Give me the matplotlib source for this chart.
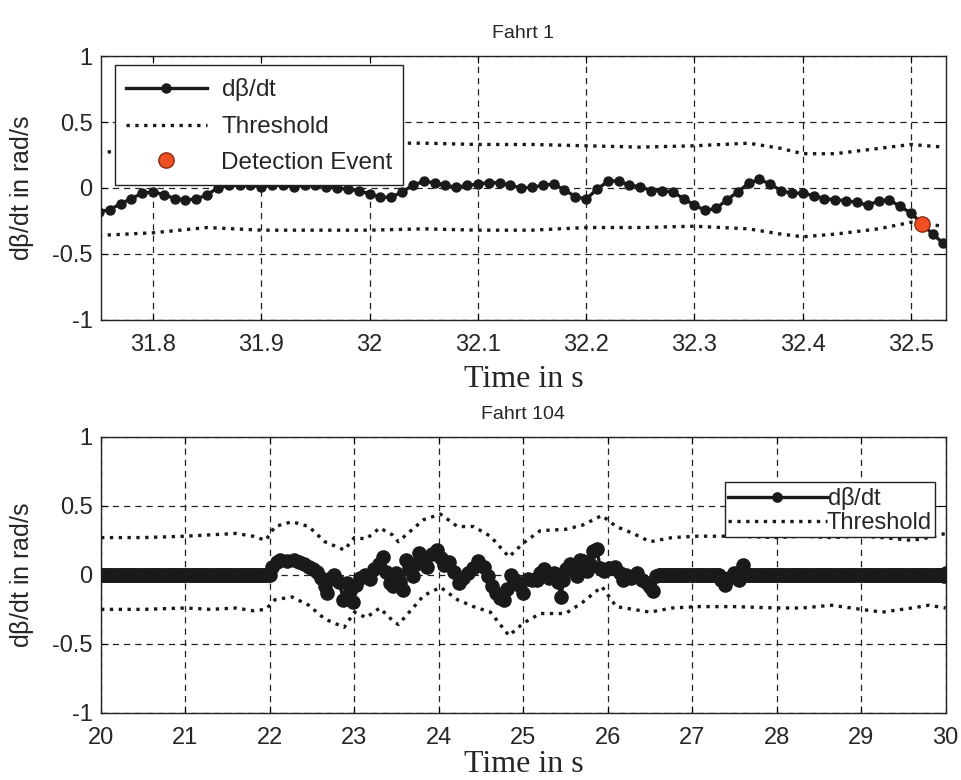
import numpy as np
import matplotlib
matplotlib.use("Agg")
import matplotlib.pyplot as plt

plt.rcParams['font.family'] = ['Liberation Sans', 'DejaVu Sans']

# ---- Fahrt 1 ----
t1_start = 31.75
beta1 = [-0.18, -0.165, -0.12, -0.08, -0.04, -0.03, -0.05, -0.08, -0.09, -0.085,
         -0.05, 0.00, 0.02, 0.02, 0.02, 0.01, 0.02, 0.02, 0.01, 0.02,
         0.02, 0.01, 0.00, -0.01, -0.02, -0.045, -0.07, -0.07, -0.03, 0.02,
         0.05, 0.04, 0.02, 0.005, 0.02, 0.03, 0.04, 0.04, 0.02, 0.00,
         0.005, 0.02, 0.03, -0.015, -0.065, -0.085, -0.01, 0.05, 0.055, 0.02,
         0.01, -0.02, -0.02, -0.03, -0.08, -0.13, -0.17, -0.155, -0.09, -0.03,
         0.035, 0.065, 0.03, -0.02, -0.04, -0.04, -0.058, -0.08, -0.09, -0.095,
         -0.11, -0.13, -0.10, -0.09, -0.14, -0.19, -0.27, -0.35, -0.42]
thr1_t = [31.75, 31.80, 31.85, 31.90, 31.95, 32.00, 32.05, 32.10, 32.15, 32.20,
          32.25, 32.30, 32.35, 32.38, 32.40, 32.43, 32.47, 32.50, 32.53]
thr1_up = [0.27, 0.29, 0.32, 0.33, 0.34, 0.34, 0.34, 0.33, 0.33, 0.32,
           0.31, 0.32, 0.34, 0.30, 0.26, 0.26, 0.30, 0.33, 0.31]
thr1_lo = [-0.36, -0.34, -0.30, -0.32, -0.32, -0.32, -0.31, -0.32, -0.32, -0.30,
           -0.30, -0.29, -0.31, -0.35, -0.37, -0.35, -0.31, -0.26, -0.29]
event_t = [32.51]
event_v = [-0.27]

# ---- Fahrt 104 ----
noisy_t = [22.00, 22.02, 22.08, 22.12, 22.20, 22.28, 22.34, 22.40, 22.46, 22.51,
           22.56, 22.61, 22.65, 22.68, 22.72, 22.76, 22.82, 22.87, 22.91, 22.95,
           22.98, 23.02, 23.07, 23.12, 23.18, 23.23, 23.29, 23.34, 23.38, 23.42,
           23.46, 23.49, 23.54, 23.57, 23.61, 23.65, 23.69, 23.73, 23.77, 23.82,
           23.86, 23.92, 23.98, 24.02, 24.06, 24.12, 24.18, 24.24, 24.29, 24.34,
           24.40, 24.46, 24.53, 24.58, 24.63, 24.68, 24.72, 24.77, 24.81, 24.85,
           24.90, 24.95, 25.00, 25.05, 25.10, 25.16, 25.20, 25.24, 25.30, 25.36,
           25.41, 25.45, 25.47, 25.51, 25.55, 25.60, 25.63, 25.67, 25.71, 25.75,
           25.79, 25.83, 25.87, 25.91, 25.96, 26.02, 26.08, 26.14, 26.18, 26.22,
           26.28, 26.34, 26.41, 26.46, 26.50, 26.53, 26.57, 26.61]
noisy_v = [0.00, 0.06, 0.09, 0.11, 0.10, 0.11, 0.09, 0.08, 0.06, 0.04,
           0.02, -0.02, -0.08, -0.13, -0.02, 0.00, -0.05, -0.18, -0.06, -0.12,
           -0.20, -0.07, -0.02, 0.00, -0.03, 0.04, 0.08, 0.13, 0.02, -0.06,
           -0.08, 0.01, -0.05, -0.11, 0.11, 0.05, -0.01, 0.08, 0.16, 0.10,
           0.06, 0.15, 0.18, 0.12, 0.07, 0.09, 0.02, -0.06, -0.02, 0.01,
           0.05, 0.10, 0.06, -0.01, -0.08, -0.13, -0.17, -0.18, -0.10, 0.00,
           -0.04, -0.07, -0.13, -0.03, -0.04, -0.04, 0.01, 0.04, -0.02, 0.01,
           -0.05, -0.16, -0.04, 0.04, 0.08, 0.03, -0.01, 0.11, 0.10, 0.03,
           0.08, 0.17, 0.19, 0.05, 0.03, 0.05, 0.06, 0.01, -0.04, 0.00,
           -0.02, 0.01, -0.04, -0.06, -0.09, -0.12, -0.01, 0.00]
bump_t = [27.34, 27.39, 27.44, 27.50, 27.55, 27.60, 27.65]
bump_v = [-0.04, -0.07, -0.02, 0.01, -0.04, 0.07, 0.00]
end_t = [29.98, 30.00]
end_v = [-0.01, 0.01]
quiet_step = 0.02

thr2_t = [20.0, 20.5, 21.0, 21.3, 21.6, 21.8, 21.95, 22.06, 22.26, 22.46,
          22.65, 22.88, 23.00, 23.14, 23.30, 23.45, 23.52, 23.65, 23.82, 24.02,
          24.22, 24.41, 24.61, 24.83, 25.00, 25.20, 25.50, 25.70, 25.93, 26.10,
          26.30, 26.50, 26.76, 27.06, 27.50, 28.00, 28.30, 28.65, 29.00, 29.25,
          29.60, 29.80, 30.0]
thr2_up = [0.27, 0.27, 0.28, 0.29, 0.30, 0.28, 0.25, 0.35, 0.385, 0.35,
           0.24, 0.18, 0.27, 0.26, 0.34, 0.29, 0.24, 0.31, 0.40, 0.44,
           0.35, 0.35, 0.28, 0.13, 0.23, 0.32, 0.33, 0.36, 0.43, 0.35,
           0.30, 0.24, 0.27, 0.28, 0.28, 0.27, 0.28, 0.27, 0.28, 0.27,
           0.25, 0.27, 0.30]
thr2_lo = [-0.25, -0.25, -0.24, -0.25, -0.24, -0.26, -0.25, -0.18, -0.16, -0.22,
           -0.32, -0.38, -0.27, -0.31, -0.24, -0.33, -0.36, -0.27, -0.15, -0.09,
           -0.18, -0.23, -0.27, -0.44, -0.35, -0.28, -0.28, -0.20, -0.085, -0.23,
           -0.25, -0.27, -0.24, -0.23, -0.23, -0.24, -0.24, -0.22, -0.25, -0.27,
           -0.24, -0.22, -0.24]

# time axis for the Fahrt 1 samples (10 ms steps)
t1 = t1_start + 0.01 * np.arange(len(beta1))

# Fahrt 104: flat zero stretches between the active parts
q1 = np.arange(20.0, 22.0, quiet_step)
q2 = np.arange(26.62, 27.34, quiet_step)
q3 = np.arange(27.66, 29.98, quiet_step)
t2 = np.concatenate([q1, noisy_t, q2, bump_t, q3, end_t])
beta2 = np.concatenate([np.zeros(len(q1)), noisy_v, np.zeros(len(q2)), bump_v,
                        np.zeros(len(q3)), end_v])

line_col = '#1a1a1a'
txt_col = '#262626'

fig = plt.figure(figsize=(9.62, 7.80), dpi=100)
ax1 = fig.add_axes([0.105, 0.590, 0.878, 0.338])
ax2 = fig.add_axes([0.105, 0.086, 0.878, 0.354])


def style_axes(ax, title, xlabelpad):
    ax.set_ylim(-1, 1)
    ax.set_yticks([-1, -0.5, 0, 0.5, 1])
    ax.set_yticklabels(['-1', '-0.5', '0', '0.5', '1'])
    ax.grid(True, color='#222222', linestyle=(0, (5, 4)), linewidth=0.9)
    ax.tick_params(direction='in', top=True, right=True, length=5,
                   labelsize=17, colors='black', labelcolor=txt_col, pad=6)
    ax.tick_params(axis='x', pad=10)
    for s in ax.spines.values():
        s.set_linewidth(1.0)
        s.set_color('#222222')
    ax.set_title(title, fontsize=14, color=txt_col, pad=13)
    ax.set_xlabel('Time in s', fontsize=23, family='Liberation Serif',
                  color=txt_col, labelpad=xlabelpad)
    ax.set_ylabel(r'd$\mathregular{\beta}$/dt in rad/s', fontsize=18,
                  color=txt_col, labelpad=12)


# top panel
ax1.plot(t1, beta1, '-o', color=line_col, lw=2.4, ms=6.5, label=r'd$\mathregular{\beta}$/dt', zorder=3)
ax1.plot(thr1_t, thr1_up, ':', color=line_col, lw=2.4, label='Threshold', zorder=2)
ax1.plot(thr1_t, thr1_lo, ':', color=line_col, lw=2.4, zorder=2)
ax1.plot(event_t, event_v, 'o', ls='none', color='#f04e23', mec='#8a2a10',
         mew=1.0, ms=11, label='Detection Event', zorder=4)
ax1.set_xlim(31.752, 32.532)
ax1.set_xticks(np.round(np.arange(31.8, 32.55, 0.1), 1))
ax1.set_xticklabels(['31.8', '31.9', '32', '32.1', '32.2', '32.3', '32.4', '32.5'])
style_axes(ax1, 'Fahrt 1', 7)
leg1 = ax1.legend(loc='upper left', bbox_to_anchor=(0.017, 0.966), fontsize=17.5,
                  handlelength=3.3, numpoints=1, frameon=True, fancybox=False,
                  edgecolor='#222222', framealpha=1, borderpad=0.45,
                  borderaxespad=0, labelspacing=0.55, handletextpad=0.6)
leg1.get_frame().set_linewidth(1.0)
for tx in leg1.get_texts():
    tx.set_color(txt_col)

# bottom panel
ax2.plot(t2, beta2, '-o', color=line_col, lw=2.4, ms=9.5, label=r'd$\mathregular{\beta}$/dt', zorder=3)
ax2.plot(thr2_t, thr2_up, ':', color=line_col, lw=2.4, label='Threshold', zorder=2)
ax2.plot(thr2_t, thr2_lo, ':', color=line_col, lw=2.4, zorder=2)
ax2.set_xlim(20, 30)
ax2.set_xticks(range(20, 31))
style_axes(ax2, 'Fahrt 104', 1)
leg2 = ax2.legend(loc='upper right', bbox_to_anchor=(0.987, 0.835), fontsize=17,
                  handlelength=4.2, numpoints=1, frameon=True, fancybox=False,
                  edgecolor='#222222', framealpha=1, borderpad=0.12,
                  borderaxespad=0, labelspacing=0.0, handletextpad=0.0,
                  markerscale=0.7)
leg2.get_frame().set_linewidth(1.0)
for tx in leg2.get_texts():
    tx.set_color(txt_col)

fig.savefig('out.png', dpi=100)
